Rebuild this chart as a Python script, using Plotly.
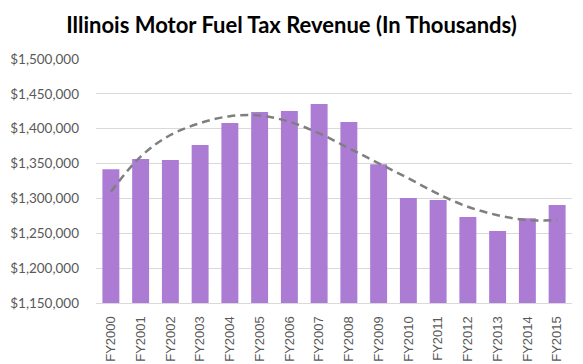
import plotly.graph_objects as go

years = ["FY2000", "FY2001", "FY2002", "FY2003", "FY2004", "FY2005", "FY2006", "FY2007",
         "FY2008", "FY2009", "FY2010", "FY2011", "FY2012", "FY2013", "FY2014", "FY2015"]
revenue = [1342000, 1356500, 1355000, 1376600, 1408200, 1424000, 1425400, 1435500,
           1409600, 1349000, 1300600, 1297700, 1273400, 1253300, 1271500, 1290600]
trend = [1309600, 1360000, 1391000, 1408000, 1418000, 1419000, 1410000, 1393400,
         1372000, 1350400, 1328900, 1306400, 1288000, 1276000, 1269000, 1269000]

fig = go.Figure()
fig.add_trace(go.Bar(x=years, y=revenue, marker=dict(color="#AC7CD4", line=dict(width=0)),
                     name="Revenue"))
fig.add_trace(go.Scatter(x=years, y=trend, mode="lines",
                         line=dict(color="#7F7F7F", width=2.5, dash="8px,5px", shape="spline"),
                         name="Trend"))

fig.update_layout(
    width=583, height=364,
    margin=dict(l=96, r=11, t=59, b=61, autoexpand=False),
    paper_bgcolor="white", plot_bgcolor="white",
    showlegend=False,
    bargap=0.43,
    title=dict(text="<b>Illinois Motor Fuel Tax Revenue (In Thousands)</b>",
               x=0.5, xanchor="center", y=1 - 25 / 364, yanchor="middle",
               font=dict(family="Lato", size=22, color="black")),
    font=dict(family="Lato", size=13, color="#595959"),
)
fig.update_yaxes(range=[1150000, 1500000], dtick=50000, tickprefix="$", tickformat=",",
                 showgrid=True, gridcolor="#D9D9D9", gridwidth=1, zeroline=False,
                 ticks="", ticklabelstandoff=16, automargin=False,
                 tickfont=dict(family="Lato", size=13.5, color="#595959"))
fig.update_xaxes(tickangle=-90, showline=True, linecolor="#D9D9D9", linewidth=1,
                 ticks="", automargin=False, ticklabelstandoff=7,
                 tickfont=dict(family="Liberation Sans", size=13, color="#595959"))

fig.write_html("out.html", config={"displayModeBar": False},
               post_script="document.body.style.margin='0';document.body.style.overflow='hidden';")
